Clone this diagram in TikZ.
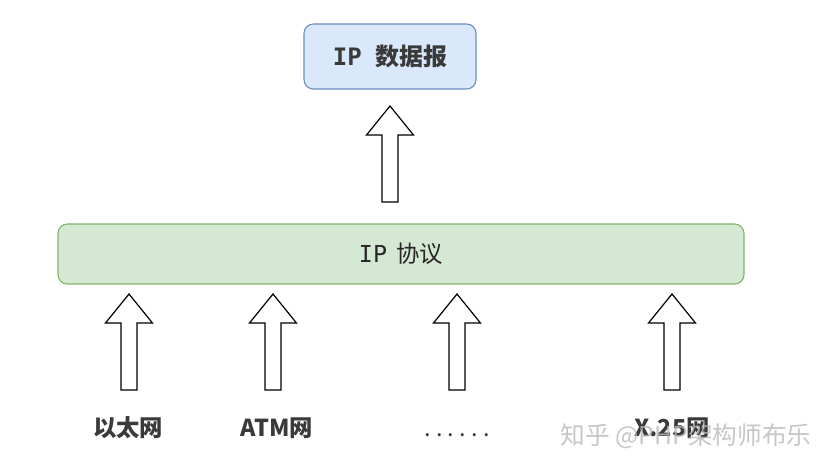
\documentclass[tikz,border=0pt]{standalone}
\usepackage{fontspec}
\setmainfont{Noto Sans CJK SC}
\setmonofont{DejaVu Sans Mono}
\usetikzlibrary{calc}

\definecolor{dgramfill}{HTML}{DAE8FC}
\definecolor{dgramline}{HTML}{6C8EBF}
\definecolor{protofill}{HTML}{D5E8D4}
\definecolor{protoline}{HTML}{82B366}
\definecolor{labgray}{HTML}{3A3A3A}

\tikzset{
    layerbox/.style={rounded corners=7pt, line width=0.8pt, inner sep=0pt},
    netlab/.style={text=labgray, font=\fontsize{17.5}{20}\selectfont\bfseries, inner sep=0pt},
    hollow/.style={draw=black, fill=white, line width=0.9pt, line join=miter}
}

\begin{document}
\begin{tikzpicture}[x=0.75pt, y=-0.75pt]
            \useasboundingbox (0, 0) rectangle (826, 469);

            \node[layerbox, draw=dgramline, fill=dgramfill, minimum width=129pt, minimum height=48.75pt,
                  text=labgray, font=\fontsize{18}{20}\selectfont\bfseries] (dgram) at (390, 56.5)
                  {\texttt{\bfseries IP}\hspace{0.55em}数据报};
            \node[layerbox, draw=protoline, fill=protofill, minimum width=514.5pt, minimum height=45pt,
                  text=black!85, font=\fontsize{17.5}{20}\selectfont] (proto) at (401, 254)
                  {\texttt{IP}\hspace{0.4em}协议};

            % hollow arrows, tail at (a\n), 96px long
            \coordinate (a0) at (390, 202);
            \foreach \n/\x/\lx/\lab in {1/129/128/以太网, 2/273/277/ATM网,
                    3/457/457/{\mdseries.\hspace{4pt}.\hspace{4pt}.\hspace{4pt}.\hspace{4pt}.\hspace{4pt}.},
                    4/672/672/X.25网}{
                \coordinate (a\n) at (\x, 390);
                \node[netlab, anchor=base] (net\n) at (\lx, 436) {\lab};
            }

            \foreach \n in {0,...,4}{
                \draw[hollow] ($(a\n)+(-8,0)$) -- ($(a\n)+(8,0)$) -- ($(a\n)+(8,-67)$)
                    -- ($(a\n)+(23.5,-67)$) -- ($(a\n)+(0,-96)$) -- ($(a\n)+(-23.5,-67)$)
                    -- ($(a\n)+(-8,-67)$) -- cycle;
            }

            \node[text=black!28, opacity=0.8, font=\fontsize{18.5}{20}\selectfont, anchor=west] (mark) at (556, 436) {知乎 @PHP架构师布乐};
\end{tikzpicture}
\end{document}
